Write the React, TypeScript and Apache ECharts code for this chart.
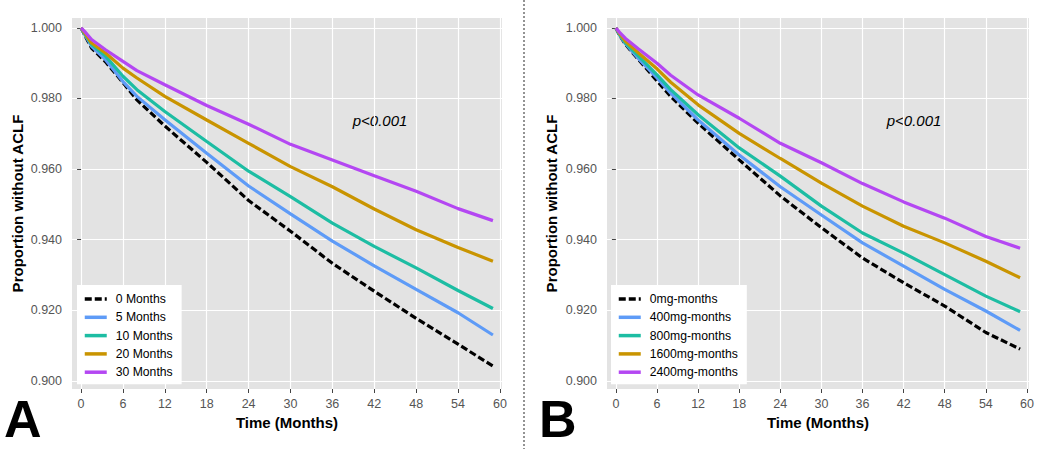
import React, { useEffect, useRef } from "react";
import * as echarts from "echarts";

// ---------- data ----------
const X_TICKS = [0, 6, 12, 18, 24, 30, 36, 42, 48, 54, 60];
const Y_TICKS = [0.9, 0.92, 0.94, 0.96, 0.98, 1.0];

const LABELS_A = ["0 Months", "5 Months", "10 Months", "20 Months", "30 Months"];
const LABELS_B = ["0mg-months", "400mg-months", "800mg-months", "1600mg-months", "2400mg-months"];

const MONTHS_A = [0, 0.5, 1.5, 3.5, 6, 8, 12, 18, 24, 30, 36, 42, 48, 54, 59];
const A_0 = [1.0, 0.998, 0.9943, 0.9904, 0.9845, 0.9796, 0.9722, 0.9619, 0.9511, 0.9424, 0.9333, 0.9254, 0.9177, 0.9104, 0.9042];
const A_5 = [1.0, 0.9982, 0.9948, 0.991, 0.9848, 0.9806, 0.974, 0.9645, 0.9552, 0.9473, 0.9396, 0.9326, 0.9259, 0.9193, 0.913];
const A_10 = [1.0, 0.9984, 0.9953, 0.992, 0.9863, 0.9825, 0.9763, 0.9678, 0.9594, 0.9522, 0.9447, 0.9381, 0.932, 0.9256, 0.9205];
const A_20 = [1.0, 0.9986, 0.9957, 0.9929, 0.9886, 0.9858, 0.9806, 0.9739, 0.9673, 0.9607, 0.955, 0.9487, 0.9428, 0.9378, 0.9339];
const A_30 = [1.0, 0.999, 0.9967, 0.9938, 0.9905, 0.9879, 0.9839, 0.978, 0.9727, 0.967, 0.9626, 0.9581, 0.9537, 0.9488, 0.9454];

const MONTHS_B = [0, 0.5, 1.4, 3.3, 6, 8, 12, 18, 24, 30, 36, 42, 48, 54, 59];
const B_0 = [1.0, 0.998, 0.9953, 0.991, 0.985, 0.9806, 0.973, 0.9626, 0.9524, 0.9434, 0.9348, 0.9278, 0.9212, 0.9137, 0.909];
const B_400 = [1.0, 0.9981, 0.9955, 0.9913, 0.9858, 0.9815, 0.9739, 0.964, 0.955, 0.947, 0.9391, 0.9325, 0.9259, 0.9198, 0.9143];
const B_800 = [1.0, 0.9982, 0.9957, 0.992, 0.9867, 0.9825, 0.9754, 0.966, 0.958, 0.9495, 0.9419, 0.9362, 0.9301, 0.924, 0.9196];
const B_1600 = [1.0, 0.9985, 0.9962, 0.9929, 0.9884, 0.9846, 0.9782, 0.9701, 0.963, 0.956, 0.9495, 0.9438, 0.9391, 0.9339, 0.9292];
const B_2400 = [1.0, 0.9988, 0.997, 0.994, 0.99, 0.9866, 0.981, 0.9744, 0.9673, 0.9618, 0.9559, 0.9507, 0.9461, 0.9409, 0.9376];

const COLORS = ["#000000", "#5E9BF7", "#1DBDA3", "#C99400", "#B447F2"];

const FONT = "'Liberation Sans', Arial, Helvetica, sans-serif";

function pairs(xs: number[], ys: number[]) {
  return xs.map((x, i) => [x, ys[i]]);
}

function makeSeries(names: string[], xs: number[], sets: number[][], axis: number) {
  return sets.map((ys, i) => ({
    type: "line",
    name: names[i],
    xAxisIndex: axis,
    yAxisIndex: axis,
    data: pairs(xs, ys),
    showSymbol: false,
    symbol: "none",
    lineStyle: {
      color: COLORS[i],
      width: 3.2,
      type: i === 0 ? [7, 3] : "solid",
    },
    itemStyle: { color: COLORS[i] },
    z: 2 + i,
  }));
}

function makeX(gridIndex: number) {
  return {
    type: "value",
    gridIndex,
    min: -1.3,
    max: 60.3,
    axisLine: { show: false },
    axisTick: { show: true, length: 4, lineStyle: { color: "#444", width: 1 }, customValues: X_TICKS },
    axisLabel: { customValues: X_TICKS, color: "#555", fontSize: 12.5, margin: 8, fontFamily: FONT },
    splitLine: { show: true, lineStyle: { color: "#ffffff", width: 1.2 } },
    name: "Time (Months)",
    nameLocation: "middle",
    nameGap: 23,
    nameTextStyle: { fontWeight: "bold", fontSize: 15, color: "#000", fontFamily: FONT },
  };
}

function makeY(gridIndex: number, nameGap: number) {
  return {
    type: "value",
    gridIndex,
    min: 0.8977,
    max: 1.0028,
    axisLine: { show: false },
    axisTick: { show: true, length: 4, lineStyle: { color: "#444", width: 1 }, customValues: Y_TICKS },
    axisLabel: {
      customValues: Y_TICKS,
      color: "#555",
      fontSize: 12.5,
      margin: 10,
      fontFamily: FONT,
      formatter: (v: number) => v.toFixed(3),
    },
    splitLine: { show: true, lineStyle: { color: "#ffffff", width: 1.2 } },
    name: "Proportion without ACLF",
    nameLocation: "middle",
    nameGap,
    nameTextStyle: { fontWeight: "bold", fontSize: 15, color: "#000", fontFamily: FONT },
  };
}

function makeLegend(names: string[], left: number) {
  return {
    data: names,
    orient: "vertical",
    left,
    top: 285,
    backgroundColor: "#ffffff",
    padding: [8, 9, 6, 6],
    itemWidth: 22,
    itemHeight: 12,
    itemGap: 6.3,
    itemStyle: { opacity: 0 },
    lineStyle: { width: 3.5 },
    textStyle: { fontSize: 12.2, color: "#000", fontFamily: FONT, padding: [0, 0, 0, 4] },
    selectedMode: false,
  };
}

export default function App() {
  const ref = useRef<HTMLDivElement>(null);
  useEffect(() => {
    if (!ref.current) return;
    const chart = echarts.init(ref.current, undefined, { renderer: "svg" });
    const option = {
      animation: false,
      backgroundColor: "#ffffff",
      grid: [
        { left: 72, top: 18, width: 430, height: 371, show: true, backgroundColor: "#E3E3E3", borderWidth: 0 },
        { left: 607, top: 18, width: 422, height: 371, show: true, backgroundColor: "#E3E3E3", borderWidth: 0 },
      ],
      xAxis: [makeX(0), makeX(1)],
      yAxis: [makeY(0, 47), makeY(1, 48)],
      legend: [makeLegend(LABELS_A, 77), makeLegend(LABELS_B, 611)],
      series: [
        ...makeSeries(LABELS_A, MONTHS_A, [A_0, A_5, A_10, A_20, A_30], 0),
        ...makeSeries(LABELS_B, MONTHS_B, [B_0, B_400, B_800, B_1600, B_2400], 1),
      ],
      graphic: [
        {
          type: "line",
          shape: { x1: 524, y1: 0, x2: 524, y2: 449 },
          style: { stroke: "#666", lineWidth: 1.4, lineDash: [2, 2] },
        },
        {
          type: "text",
          x: 380,
          y: 120,
          style: { text: "p<0.001", font: `italic 15px ${FONT}`, fill: "#000", textAlign: "center", textVerticalAlign: "middle" },
        },
        {
          type: "text",
          x: 914,
          y: 120,
          style: { text: "p<0.001", font: `italic 15px ${FONT}`, fill: "#000", textAlign: "center", textVerticalAlign: "middle" },
        },
        {
          type: "text",
          x: 4,
          y: 419,
          style: { text: "A", font: `bold 52px ${FONT}`, fill: "#000", textAlign: "left", textVerticalAlign: "middle" },
        },
        {
          type: "text",
          x: 539,
          y: 419,
          style: { text: "B", font: `bold 52px ${FONT}`, fill: "#000", textAlign: "left", textVerticalAlign: "middle" },
        },
      ],
    };
    chart.setOption(option as any);
    return () => chart.dispose();
  }, []);
  return <div ref={ref} style={{ position: "fixed", left: 0, top: 0, width: 1050, height: 449 }} />;
}
